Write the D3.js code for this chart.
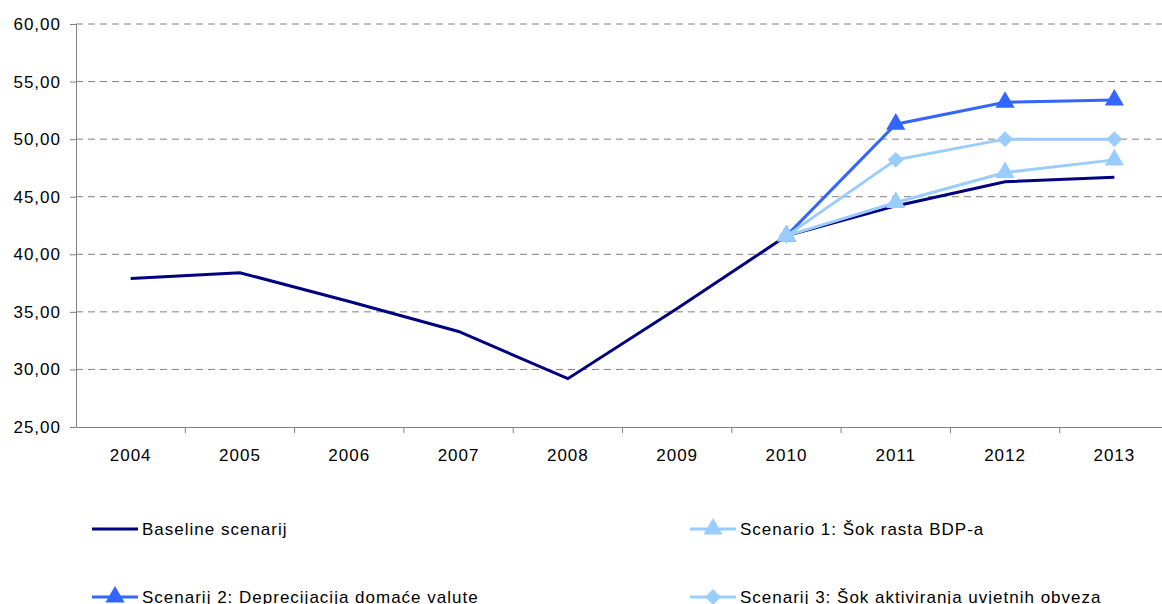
<!DOCTYPE html>
<html>
<head>
<meta charset="utf-8">
<script src="https://cdn.jsdelivr.net/npm/d3@7"></script>
<style>
  body { margin: 0; background: #fff; }
  text { font-family: "Liberation Sans", Arial, sans-serif; fill: #000; font-size: 17px; letter-spacing: 1px; }
</style>
</head>
<body>
<svg id="chart" width="1162" height="604"></svg>
<script>
var years = ["2004", "2005", "2006", "2007", "2008", "2009", "2010", "2011", "2012", "2013"];
var yTicks = [25, 30, 35, 40, 45, 50, 55, 60];

var baseline  = [37.9, 38.4, 35.9, 33.3, 29.2, 35.3, 41.6, 44.2, 46.3, 46.7];
var scenario1 = [null, null, null, null, null, null, 41.6, 44.5, 47.1, 48.2];
var scenario2 = [null, null, null, null, null, null, 41.6, 51.3, 53.2, 53.4];
var scenario3 = [null, null, null, null, null, null, 41.6, 48.2, 50.0, 50.0];

var seriesNames = ["Baseline scenarij", "Scenario 1: Šok rasta BDP-a",
                   "Scenarij 2: Deprecijacija domaće valute", "Scenarij 3: Šok aktiviranja uvjetnih obveza"];

var series = [
  {name: seriesNames[0], values: baseline,  color: "#000080", marker: null},
  {name: seriesNames[1], values: scenario1, color: "#99CCFF", marker: "triangle"},
  {name: seriesNames[2], values: scenario2, color: "#3366FF", marker: "triangle"},
  {name: seriesNames[3], values: scenario3, color: "#99CCFF", marker: "diamond"}
];

var margin = {top: 24, left: 76, right: 0, bottom: 177},
    width = 1169 - margin.left,
    height = 604 - margin.top - margin.bottom;

var svg = d3.select("#chart");
var g = svg.append("g").attr("transform", "translate(" + margin.left + "," + margin.top + ")");

var x = d3.scaleBand().domain(years).range([0, width]);
var y = d3.scaleLinear().domain([25, 60]).range([height, 0]);

// gridlines
g.selectAll(".grid").data(yTicks.slice(1)).enter().append("line")
  .attr("x1", 0).attr("x2", 1162 - margin.left)
  .attr("y1", function(d) { return y(d); }).attr("y2", function(d) { return y(d); })
  .attr("stroke", "#808080").attr("stroke-width", 1).attr("stroke-dasharray", "7,5");

// y axis
var yAxis = g.append("g")
  .call(d3.axisLeft(y).tickValues(yTicks).tickSize(6).tickPadding(9)
    .tickFormat(function(d) { return d3.format(".2f")(d).replace(".", ","); }));
yAxis.select(".domain").attr("stroke", "#808080");
yAxis.selectAll(".tick line").attr("stroke", "#808080");
yAxis.selectAll("text").style("font-size", "17px");

// x axis
var xAxis = g.append("g").attr("transform", "translate(0," + height + ")")
  .call(d3.axisBottom(x).tickSize(0).tickPadding(22));
xAxis.select(".domain").attr("stroke", "#808080");
xAxis.selectAll("text").style("font-size", "17px");
g.append("g").selectAll("line").data(years).enter().append("line")
  .attr("x1", function(d) { return x(d) + x.bandwidth(); })
  .attr("x2", function(d) { return x(d) + x.bandwidth(); })
  .attr("y1", height).attr("y2", height + 6)
  .attr("stroke", "#808080");

var line = d3.line()
  .defined(function(d) { return d != null; })
  .x(function(d, i) { return x(years[i]) + x.bandwidth() / 2; })
  .y(function(d) { return y(d); });

var tri = d3.symbol().type(d3.symbolTriangle).size(160);
var sq = d3.symbol().type(d3.symbolSquare).size(125);

function drawMarker(sel, s) {
  if (!s.marker) return;
  if (s.marker === "triangle") {
    sel.append("path").attr("d", tri()).attr("fill", s.color);
  } else {
    sel.append("path").attr("d", sq()).attr("transform", "rotate(45)").attr("fill", s.color);
  }
}

// draw order: baseline, scenario2, scenario1, scenario3
[0, 2, 1, 3].forEach(function(k) {
  var s = series[k];
  g.append("path").datum(s.values)
    .attr("d", line).attr("fill", "none")
    .attr("stroke", s.color).attr("stroke-width", 3);
  s.values.forEach(function(v, i) {
    if (v == null) return;
    var m = g.append("g").attr("transform", "translate(" + (x(years[i]) + x.bandwidth() / 2) + "," + y(v) + ")");
    drawMarker(m, s);
  });
});

// legend
var legPos = [[92, 529], [690, 529], [92, 597], [690, 597]];
series.forEach(function(s, i) {
  var lg = svg.append("g").attr("transform", "translate(" + legPos[i][0] + "," + legPos[i][1] + ")");
  lg.append("line").attr("x1", 0).attr("x2", 46).attr("y1", 0).attr("y2", 0)
    .attr("stroke", s.color).attr("stroke-width", 3);
  var m = lg.append("g").attr("transform", "translate(23,0)");
  drawMarker(m, s);
  lg.append("text").attr("x", 50).attr("y", 0).attr("dy", "0.35em")
    .text(s.name);
});
</script>
</body>
</html>
